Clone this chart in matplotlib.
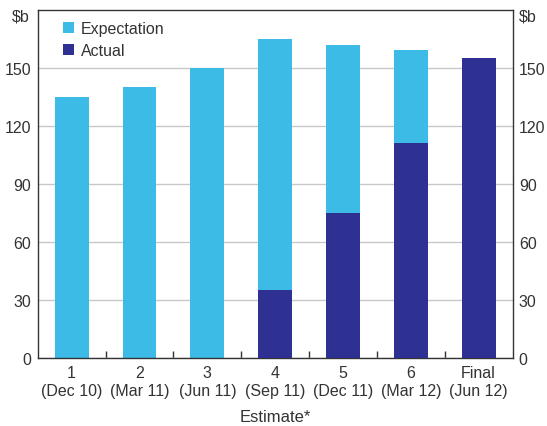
import numpy as np
import matplotlib
matplotlib.use("Agg")
import matplotlib.pyplot as plt

plt.rcParams['font.family'] = ['Liberation Sans', 'DejaVu Sans']

# ------------------------------------------------------------
# Data ($b)
# ------------------------------------------------------------
estimates = ["1", "2", "3", "4", "5", "6", "Final"]
dates = ["Dec 10", "Mar 11", "Jun 11", "Sep 11", "Dec 11", "Mar 12", "Jun 12"]
expectation = [135, 140, 150, 165, 162, 159, 0]
actual = [0, 0, 0, 35, 75, 111, 155]
y_ticks = [0, 30, 60, 90, 120, 150]

LIGHT = "#3CBBE7"
DARK = "#2E3192"
TEXT = "#333333"

fig = plt.figure(figsize=(5.47, 4.27), dpi=100)
ax = fig.add_axes([0.069, 0.159, 0.868, 0.816])

x = np.arange(len(estimates))
ax.bar(x, expectation, width=0.5, color=LIGHT, label="Expectation", zorder=2)
ax.bar(x, actual, width=0.5, color=DARK, label="Actual", zorder=3)

ax.set_xlim(-0.5, len(estimates) - 0.5)
ax.set_ylim(0, 180)
ax.set_yticks(y_ticks)
ax.yaxis.grid(True, color="#C8C8C8", linewidth=1, zorder=0)
ax.set_axisbelow(True)

ax.set_xticks(x)
ax.set_xticklabels([f"{e}\n({d})" for e, d in zip(estimates, dates)],
                   fontsize=11.5, color=TEXT, linespacing=1.25)
ax.set_xticks(np.arange(0.5, len(estimates) - 1), minor=True)
ax.tick_params(axis="x", which="major", length=0, pad=5)
ax.tick_params(axis="x", which="minor", direction="in", length=5,
               width=1, color=TEXT)
ax.tick_params(axis="y", length=0, labelsize=11.5, colors=TEXT, pad=4.5,
               labelright=True, right=True)
ax.set_xlabel("Estimate*", fontsize=12, color=TEXT, labelpad=8)

for s in ax.spines.values():
    s.set_color(TEXT)
    s.set_linewidth(1)

fig.text(0.021, 0.96, "$b", fontsize=11.5, color=TEXT, ha="left", va="center")
fig.text(0.949, 0.96, "$b", fontsize=11.5, color=TEXT, ha="left", va="center")

leg = ax.legend(loc="upper left", frameon=False, fontsize=11.5,
                handlelength=0.7, handleheight=0.7, handletextpad=0.4,
                labelspacing=0.45, borderaxespad=0.3,
                bbox_to_anchor=(0.03, 1.0))
for t in leg.get_texts():
    t.set_color(TEXT)

plt.savefig("out.png", dpi=100)
